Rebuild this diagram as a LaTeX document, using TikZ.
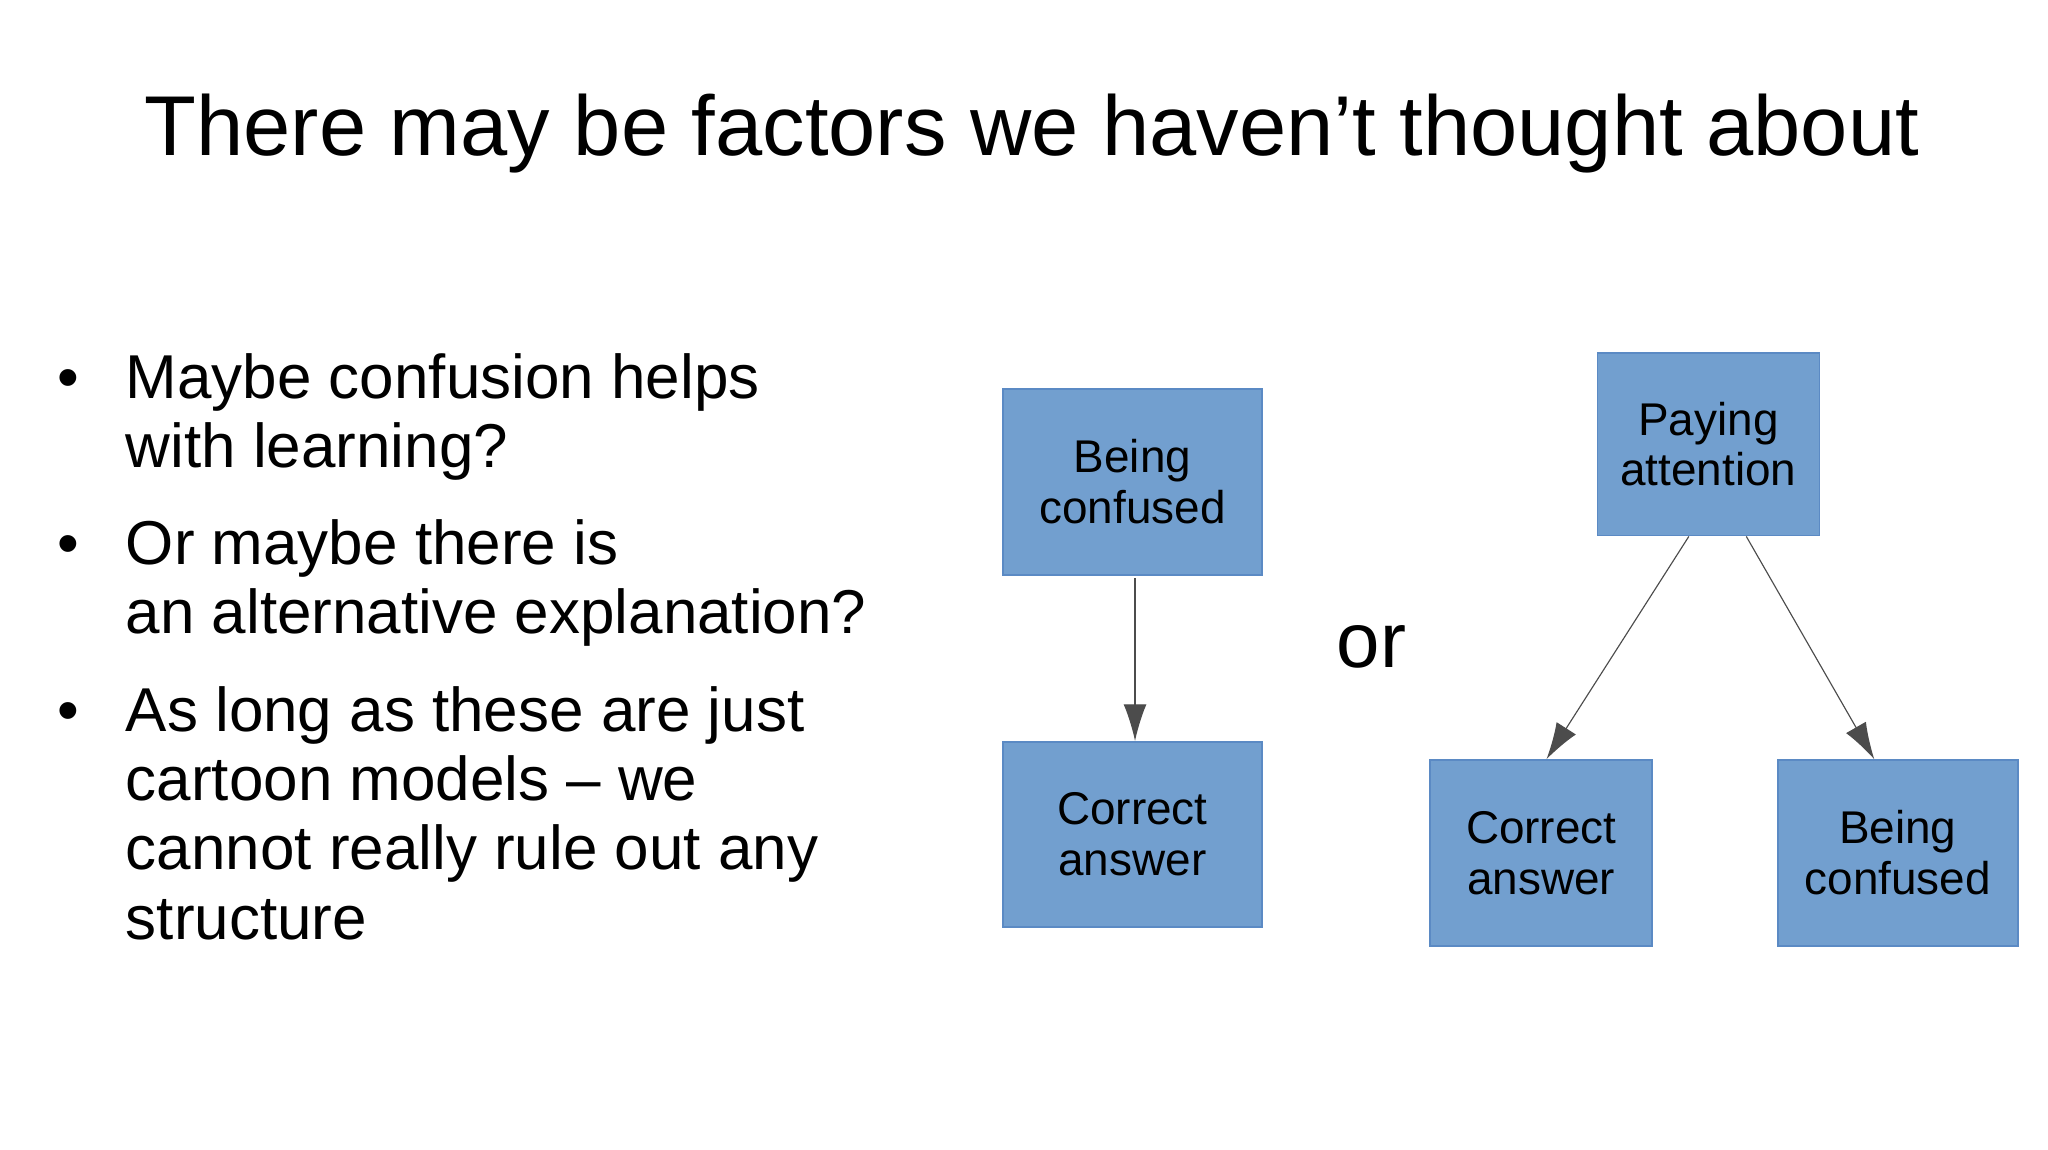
\documentclass[tikz,border=0pt]{standalone}
\usepackage{fontspec}
\setmainfont{Liberation Sans}
\usetikzlibrary{arrows.meta}
\definecolor{boxfill}{RGB}{114,159,207}
\definecolor{boxline}{RGB}{91,138,196}
\begin{document}
\begin{tikzpicture}[x=0.02cm,y=-0.02cm,
  box/.style={draw=boxline, fill=boxfill, line width=0.8pt, inner sep=0pt, align=center, font=\fontsize{20}{22.2}\selectfont},
  conn/.style={draw=black!70, line width=0.5pt, -{Latex[length=16pt,width=10pt]}},
  btxt/.style={anchor=base west, inner sep=0pt, font=\fontsize{27}{30}\selectfont}]
\useasboundingbox (0,0) rectangle (1568,880);
\node[inner sep=0pt, font=\fontsize{37}{40}\selectfont] (title) at (790,102) {There may be factors we haven{\char"27}t thought about};
\node[btxt] (l1) at (96,305) {Maybe confusion helps};
\node[btxt] (l2) at (96,358) {with learning?};
\node[btxt] (l3) at (96,432) {Or maybe there is};
\node[btxt] (l4) at (96,485) {an alternative explanation?};
\node[btxt] (l5) at (96,560) {As long as these are just};
\node[btxt] (l6) at (96,613) {cartoon models -- we};
\node[btxt] (l7) at (96,666) {cannot really rule out any};
\node[btxt] (l8) at (96,719) {structure};
\foreach \y/\n in {305/d1,432/d2,560/d3} \node[btxt] (\n) at (44,\y) {•};
\node[box, minimum width=3.96cm, minimum height=2.84cm] (A) at (867,369) {Being\\confused};
\node[box, minimum width=3.96cm, minimum height=2.84cm] (B) at (867,639) {Correct\\answer};
\node[box, minimum width=3.4cm, minimum height=2.8cm] (C) at (1308,340) {Paying\\attention};
\node[box, minimum width=3.4cm, minimum height=2.84cm] (D) at (1180,653) {Correct\\answer};
\node[box, minimum width=3.68cm, minimum height=2.84cm] (E) at (1453,653) {Being\\confused};
\node[inner sep=0pt, font=\fontsize{34}{38}\selectfont] (or) at (1050,495) {or};
\draw[conn] ([xshift=0.04cm,yshift=-0.04cm]A.south) -- ([xshift=0.04cm]B.north);
\draw[conn] ([xshift=-0.3cm]C.south) -- ([xshift=0.08cm]D.north);
\draw[conn] ([xshift=0.58cm]C.south) -- ([xshift=-0.36cm]E.north);
\end{tikzpicture}
\end{document}
